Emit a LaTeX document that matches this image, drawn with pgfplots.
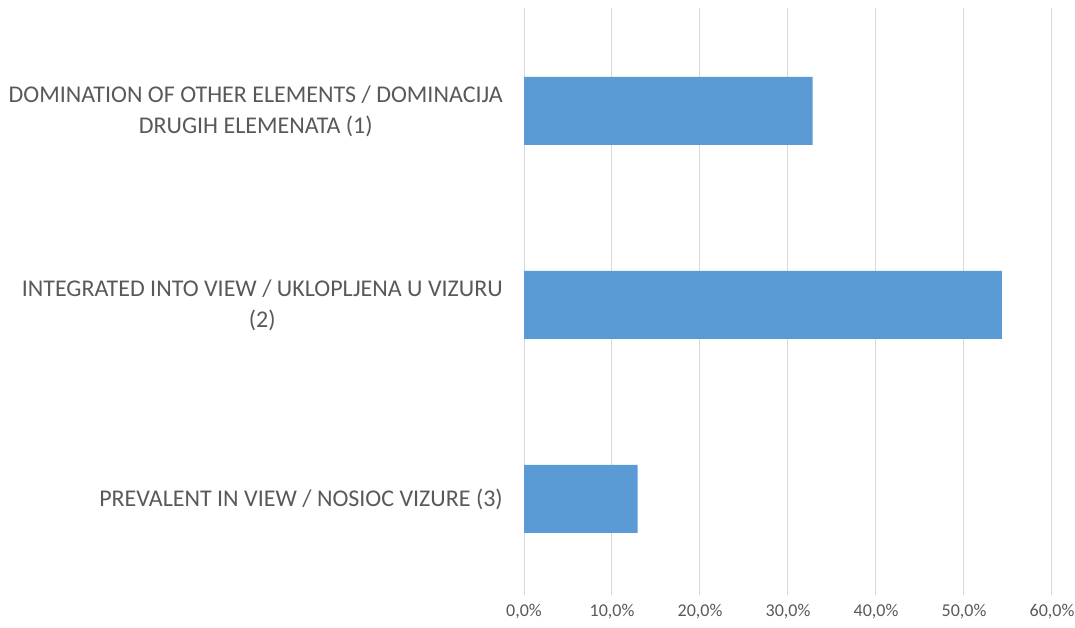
\documentclass[border=0pt]{standalone}
\usepackage{pgfplots}
\pgfplotsset{compat=1.18}
\usepackage{fontspec}
\setmainfont{Carlito}
\definecolor{barblue}{HTML}{5B9BD5}
\definecolor{txtgray}{HTML}{595959}
\definecolor{gridgray}{HTML}{D9D9D9}
\begin{document}
\begin{tikzpicture}
\path[use as bounding box] (0,0) rectangle (1075bp,628bp);
\begin{axis}[
  at={(524bp,33bp)}, anchor=south west,
  scale only axis, width=528bp, height=587bp,
  xbar, bar width=68bp,
  xmin=0, xmax=60, ymin=-0.495, ymax=2.53,
  xtick={0,10,20,30,40,50,60},
  xticklabels={{0,0\%},{10,0\%},{20,0\%},{30,0\%},{40,0\%},{50,0\%},{60,0\%}},
  ytick={0,1,2},
  yticklabels={{PREVALENT IN VIEW / NOSIOC VIZURE (3)},{INTEGRATED INTO VIEW / UKLOPLJENA U VIZURU\\(2)},{DOMINATION OF OTHER ELEMENTS / DOMINACIJA\\DRUGIH ELEMENATA (1)}},
  major tick length=0pt,
  axis line style={draw=none},
  xmajorgrids, grid style={gridgray, line width=1bp},
  xticklabel style={font=\fontsize{18bp}{21bp}\selectfont, text=txtgray, inner sep=0pt, anchor=north, yshift=-9bp},
  yticklabel style={font=\fontsize{24bp}{31bp}\selectfont, text=txtgray, align=center, inner sep=0pt, anchor=east, xshift=-21bp},
]
\addplot[fill=barblue, draw=none] coordinates {(12.9,0) (54.3,1) (32.8,2)};
\end{axis}
\end{tikzpicture}
\end{document}
